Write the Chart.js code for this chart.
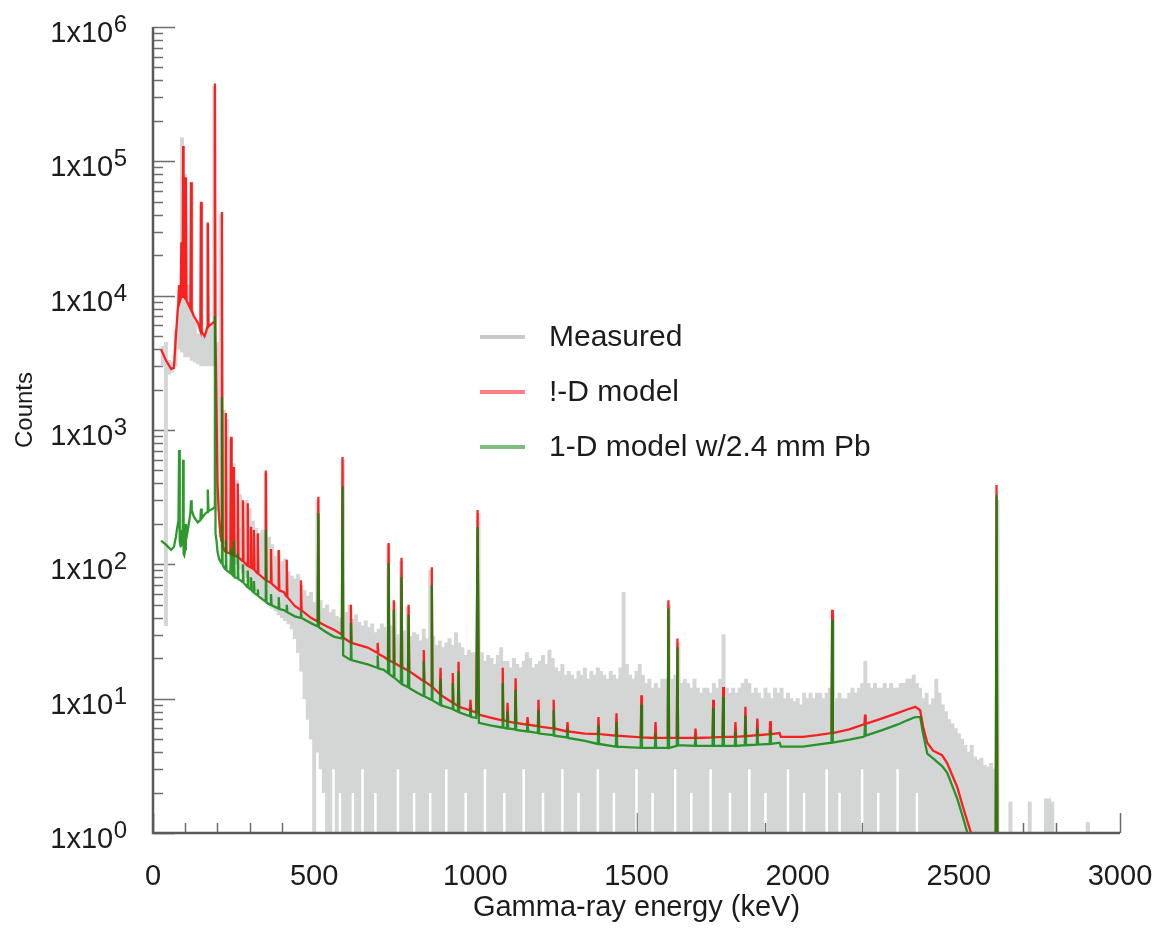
<!DOCTYPE html>
<html>
<head>
<meta charset="utf-8">
<script src="https://cdn.jsdelivr.net/npm/chart.js@4.4.0/dist/chart.umd.min.js"></script>
<style>
html,body{margin:0;padding:0;background:#ffffff;}
#wrap{width:1159px;height:931px;position:relative;}
</style>
</head>
<body>
<div id="wrap"><canvas id="c" width="1159" height="931"></canvas></div>
<script>
// ---------------- DATA ----------------
// Measured spectrum, 10 keV bins: bin centre (keV), highest and lowest count seen in the bin
const measuredEnergy = [
  30,40,50,60,70,80,90,100,110,120,
  130,140,150,160,170,180,190,200,210,220,
  230,240,250,260,270,280,290,300,310,320,
  330,340,350,360,370,380,390,400,410,420,
  430,440,450,460,470,480,490,500,510,520,
  530,540,550,560,570,580,590,600,610,620,
  630,640,650,660,670,680,690,700,710,720,
  730,740,750,760,770,780,790,800,810,820,
  830,840,850,860,870,880,890,900,910,920,
  930,940,950,960,970,980,990,1000,1010,1020,
  1030,1040,1050,1060,1070,1080,1090,1100,1110,1120,
  1130,1140,1150,1160,1170,1180,1190,1200,1210,1220,
  1230,1240,1250,1260,1270,1280,1290,1300,1310,1320,
  1330,1340,1350,1360,1370,1380,1390,1400,1410,1420,
  1430,1440,1450,1460,1470,1480,1490,1500,1510,1520,
  1530,1540,1550,1560,1570,1580,1590,1600,1610,1620,
  1630,1640,1650,1660,1670,1680,1690,1700,1710,1720,
  1730,1740,1750,1760,1770,1780,1790,1800,1810,1820,
  1830,1840,1850,1860,1870,1880,1890,1900,1910,1920,
  1930,1940,1950,1960,1970,1980,1990,2000,2010,2020,
  2030,2040,2050,2060,2070,2080,2090,2100,2110,2120,
  2130,2140,2150,2160,2170,2180,2190,2200,2210,2220,
  2230,2240,2250,2260,2270,2280,2290,2300,2310,2320,
  2330,2340,2350,2360,2370,2380,2390,2400,2410,2420,
  2430,2440,2450,2460,2470,2480,2490,2500,2510,2520,
  2530,2540,2550,2560,2570,2580,2590,2600,2610,2620,
  2630,2640,2650,2660,2670,2680,2690,2700,2710,2720,
  2730,2740,2750,2760,2770,2780,2790,2800,2810,2820,
  2830,2840,2850,2860,2870,2880,2890,2900
];
const measuredHigh = [
  4200,4500,3300,3200,5500,11000,150000,80000,12000,70000,
  6500,5200,48000,5000,34000,5800,360000,4500,40000,1400,
  1200,850,560,420,330,290,300,260,210,185,
  170,180,480,160,140,115,125,105,110,88,
  82,78,84,70,64,58,62,52,300,54,
  47,50,44,46,41,40,600,44,50,39,
  42,37,35,38,34,36,31,33,36,34,
  140,35,52,30,105,32,48,29,31,30,
  27,33,28,90,29,25,27,24,26,28,
  25,31,26,24,21,23,22,22,240,22,
  19,21,20,18,21,24,19,19,17,20,
  18,17,19,22,20,17,18,19,21,18,
  23,20,17,16,18,15,16,15,14,16,
  15,17,14,16,15,17,16,15,14,16,
  15,14,17,62,18,15,14,16,18,15,
  13,14,12,13,12,14,14,50,14,15,
  26,13,14,13,12,14,12,11,12,12,
  11,13,12,14,30,12,11,12,11,12,
  13,14,13,11,12,11,10,12,11,10,
  12,11,12,10,11,10,9.5,10,9,11,
  10,11,10,11,11,10,11,12,42,10,
  11,10,10,11,12,11,12,13,19,13,
  12,13,12,12,13,12,13,12,12,13,
  13,14,14,15,13,12,10,11,9,10,
  14,11,9,8,7,6.5,6,5.5,5,4.5,
  4,4.5,3.7,3.5,3.6,3.2,3.1,3.3,3,300,
  1,1,1,1.7,1,1,1,1,1,1.7,
  1,1,1,1,1.8,1.8,1.7,1,1,1,
  1,1,1,1,1,1,1,1.2
];
const measuredLow = [
  3000,35,2600,2700,3000,4000,3800,3500,3500,3300,
  3200,3100,3000,3000,3000,3000,3000,250,160,140,
  125,115,105,100,92,86,80,74,68,64,
  60,56,54,50,47,45,42,40,38,36,
  33,28,22,16,10,7,5,1,4,3,
  2,1,1,3,1,2,1,1,1,2,
  1,1,3,1,1,1,2,1,1,1,
  1,1,1,3,1,1,1,1,2,1,
  1,1,1,2,1,1,1,1,3,1,
  1,1,1,1,2,1,1,1,1,1,
  3,1,1,1,1,1,2,1,1,1,
  1,1,3,1,1,1,1,1,2,1,
  1,1,1,1,3,1,1,1,1,2,
  1,1,1,1,1,3,1,1,1,1,
  2,1,1,1,1,1,1,3,1,1,
  1,1,2,1,1,1,1,1,1,3,
  1,1,1,1,2,1,1,1,1,1,
  3,1,1,1,1,1,2,1,1,1,
  1,1,3,1,1,1,1,2,1,1,
  1,1,1,1,3,1,1,1,1,2,
  1,1,1,1,1,1,3,1,1,1,
  2,1,1,1,1,1,1,3,1,1,
  1,1,2,1,1,1,1,1,3,1,
  1,1,1,1,2,1,1,1,1,1,
  1,1,1,1,1,1,1,1,1,1,
  1,1,1,1,1,1,1,1,1,1,
  1,1,1,1,1,1,1,1,1,1,
  1,1,1,1,1,1,1,1,1,1,
  1,1,1,1,1,1,1,1
];

// Model spectra (energy in keV, counts)
const modelEnergy = [
  25,40,56,65,71,77,79,81,83,86,88,90,92,93.5,95,97,100,102,104,108,
  116,118,120,127,139,147,149,151,160,164,168,170,172,180,186,190,192,194,197,200,
  205,210,212,214,216,220,224,226,228,240,242,244,249,251,253,261,263,265,277,279,
  281,292,294,296,302,304,306,311,313,315,323,325,327,348,350,352,364,366,368,388,
  390,392,406,413,415,417,440,457,459,461,490,511,513,515,540,561,586,588,590,612,
  614,616,666,695,697,699,716,729,731,733,745,747,749,769,771,773,791,793,795,821,
  838,840,842,863,865,867,890,892,894,928,930,932,946,948,950,983,985,987,1003,1007,
  1011,1050,1083,1085,1087,1098,1100,1102,1123,1125,1127,1160,1162,1164,1194,1196,1198,1241,1243,1245,
  1284,1286,1288,1340,1380,1382,1384,1436,1438,1440,1513,1515,1517,1557,1559,1561,1597,1599,1601,1625,
  1627,1629,1681,1683,1685,1736,1738,1740,1767,1769,1771,1805,1807,1809,1836,1838,1840,1873,1875,1877,
  1913,1915,1917,1944,1948,2017,2060,2105,2107,2109,2160,2203,2207,2209,2211,2260,2309,2340,2365,2380,
  2389,2402,2420,2448,2464,2495,2513,2535,2560,2614,2617,2620,2650
];
const model1D = [
  4000,3300,2850,2900,5000,8000,8800,12000,9000,9500,25000,9800,10000,130000,10000,9800,9500,76000,9200,8800,
  8000,70000,7800,7000,6300,5500,50000,5400,5000,5300,5800,35000,5900,6100,6300,6300,380000,5000,1500,400,
  220,160,150,42000,140,128,125,1340,123,120,890,119,117,530,116,114,400,113,106,300,
  105,98,285,97,95,190,94,92,180,91,86,170,85,77,500,76,73,130,72,65,
  128,64,62,58,108,57,49,46,76,45.5,40,37.5,318,37,34.5,32.6,30,630,28.5,26.3,
  50,26,24,22,26,21.5,20.5,19.5,144,19.3,18.6,54,18.4,17.3,112,17.1,16.2,50,16,14.5,
  13.6,23,13.5,12.4,95,12.2,10.8,17,10.6,9.4,15.5,9.3,8.8,18.8,8.7,8.2,9.8,8.1,7.9,254,
  7.6,7.2,6.9,17,6.9,6.8,9.3,6.75,6.6,14.2,6.6,6.4,7.3,6.4,6.25,9.8,6.2,6,9.8,6,
  5.7,6.7,5.7,5.5,5.45,7.3,5.45,5.3,7.8,5.3,5.15,10.6,5.15,5.1,6.7,5.1,5.1,54,5.1,5.1,
  28,5.1,5.1,6,5.1,5.15,9.8,5.15,5.2,12.2,5.2,5.2,6.7,5.2,5.25,8.7,5.25,5.35,7.1,5.35,
  5.45,6.8,5.45,5.55,5.2,5.2,5.35,5.55,46,5.55,5.9,6.4,6.45,7.6,6.5,7.1,7.8,8.3,8.7,8.2,
  6.2,4.7,4.1,3.8,3.3,2.2,1.56,1.05,0.6,0.3,390,0.3,0.3
];
const modelPb = [
  150,140,128,135,160,200,210,710,150,134,180,140,150,600,120,117,130,200,160,180,
  240,300,255,225,205,215,260,220,235,240,245,360,250,255,260,265,7000,170,150,125,
  110,104,102,1760,100,95,92,150,90,86,130,85,82,150,80,79,120,78,74,100,
  73,68,90,67,65,80,64,62,75,61,59,65,58,53,180,52,50,60,49.5,47,
  57,46.5,45.6,44.5,50,44,41,40,45,39.8,36.5,34.5,240,34,31,29,28,380,21,19.5,
  36.6,19.4,18,17,21,16.8,16.4,15.5,102,15.3,14.5,45.6,14.3,13,80,12.8,12.2,42,12,11,
  10.5,19,10.4,9.8,70,9.7,9,14,8.9,8.4,13,8.3,8,16,7.9,7.4,8.5,7.3,7.2,190,
  6.6,6.3,6.1,13,6.1,6,8,6,5.9,11.6,5.85,5.7,6.5,5.7,5.55,8.2,5.5,5.35,8.2,5.3,
  5.15,6,5.1,4.85,4.6,6.3,4.6,4.4,6.7,4.4,4.3,9,4.3,4.3,5.5,4.3,4.3,47,4.3,4.45,
  24,4.5,4.45,5.2,4.45,4.45,8.5,4.45,4.45,10.3,4.45,4.45,5.7,4.45,4.5,7.5,4.5,4.55,6,4.55,
  4.6,5.8,4.6,4.7,4.4,4.4,4.55,4.7,38.5,4.7,4.95,5.2,5.25,6.4,5.3,5.8,6.4,6.9,7.3,7.3,
  5.5,3.9,3.6,3.15,2.8,1.8,1.3,0.85,0.5,0.3,330,0.3,0.3
];

const seriesLabels = ['Measured', '!-D model', '1-D model w/2.4 mm Pb'];
const xTickValues = [0, 500, 1000, 1500, 2000, 2500, 3000];
const yDecades = [1, 10, 100, 1000, 10000, 100000, 1000000];
const yExponents = ['0', '1', '2', '3', '4', '5', '6'];

// ---------------- STYLE ----------------
const FONT = "'Liberation Sans', Arial, Helvetica, sans-serif";
const TEXT = '#1c1c1c';
const AXIS = '#5a5a5a';
const cGray = 'rgb(212,214,214)';
const cRed = 'rgba(255,0,0,0.85)';
const cGreen = 'rgba(10,135,10,0.85)';
const legendColors = ['rgb(200,200,198)', 'rgb(255,125,135)', 'rgb(125,190,125)'];

const frame = {
  id: 'frame',
  beforeDatasetsDraw(chart) {
    const {ctx, chartArea: a, scales: {x, y}} = chart;
    ctx.save();
    ctx.strokeStyle = '#6e6e6e';
    ctx.lineWidth = 1.5;
    ctx.beginPath();
    for (let k = 0; k < 6; k++) {
      for (let m = 1; m <= 9; m++) {
        const v = m * Math.pow(10, k);
        const py = Math.round(y.getPixelForValue(v)) + 0.5;
        ctx.moveTo(a.left, py);
        ctx.lineTo(a.left + (m === 1 ? 22 : 10), py);
      }
    }
    const pt = Math.round(y.getPixelForValue(1e6)) + 0.5;
    ctx.moveTo(a.left, pt); ctx.lineTo(a.left + 22, pt);
    for (let e = 0; e <= 3000; e += 100) {
      const px = Math.round(x.getPixelForValue(e)) + 0.5;
      ctx.moveTo(px, a.bottom);
      ctx.lineTo(px, a.bottom - (e % 500 === 0 ? 20 : 10));
    }
    ctx.stroke();
    ctx.restore();
  },
  afterDatasetsDraw(chart) {
    const {ctx, chartArea: a, scales: {y}} = chart;
    ctx.save();
    ctx.strokeStyle = AXIS;
    ctx.lineWidth = 2.5;
    ctx.beginPath();
    ctx.moveTo(a.left, a.top);
    ctx.lineTo(a.left, a.bottom);
    ctx.lineTo(a.right, a.bottom);
    ctx.stroke();
    // y tick labels 1x10^k with a raised exponent
    ctx.fillStyle = TEXT;
    ctx.textAlign = 'right';
    ctx.textBaseline = 'alphabetic';
    const rightEdge = a.left - 26;
    yDecades.forEach((v, i) => {
      const py = y.getPixelForValue(v);
      ctx.font = '24px ' + FONT;
      const ew = ctx.measureText(yExponents[i]).width;
      ctx.fillText(yExponents[i], rightEdge, py + 5);
      ctx.font = '29px ' + FONT;
      ctx.fillText('1x10', rightEdge - ew - 0.5, py + 15);
    });
    ctx.restore();
  }
};

const legendPlugin = {
  id: 'customLegend',
  afterDraw(chart) {
    const ctx = chart.ctx;
    ctx.save();
    ctx.font = '30px ' + FONT;
    ctx.textBaseline = 'middle';
    ctx.fillStyle = TEXT;
    const rows = [337, 392, 447];
    seriesLabels.forEach((lab, i) => {
      ctx.strokeStyle = legendColors[i];
      ctx.lineWidth = 4;
      ctx.beginPath();
      ctx.moveTo(480, rows[i]);
      ctx.lineTo(525, rows[i]);
      ctx.stroke();
      ctx.fillText(lab, 549, rows[i] + 1);
    });
    ctx.restore();
  }
};

const toXY = (ys) => modelEnergy.map((e, i) => ({x: e, y: ys[i]}));

new Chart(document.getElementById('c'), {
  type: 'bar',
  data: {
    datasets: [
      {
        type: 'bar', label: seriesLabels[0], order: 3,
        data: measuredEnergy.map((e, i) => ({x: e, y: [measuredLow[i], measuredHigh[i]]})),
        backgroundColor: cGray, borderWidth: 0, barThickness: 3.3, grouped: false
      },
      {
        type: 'line', label: seriesLabels[1], order: 2,
        data: toXY(model1D),
        borderColor: cRed, borderWidth: 2.3, pointRadius: 0, tension: 0, fill: false
      },
      {
        type: 'line', label: seriesLabels[2], order: 1,
        data: toXY(modelPb),
        borderColor: cGreen, borderWidth: 2.3, pointRadius: 0, tension: 0, fill: false
      }
    ]
  },
  options: {
    responsive: false,
    animation: false,
    devicePixelRatio: 1,
    layout: {padding: {left: 0, right: 39, top: 27, bottom: 0}},
    plugins: {legend: {display: false}, tooltip: {enabled: false}},
    scales: {
      x: {
        type: 'linear', min: 0, max: 3000, offset: false,
        grid: {display: false, offset: false, drawTicks: false},
        border: {display: false},
        afterBuildTicks(s) { s.ticks = xTickValues.map(v => ({value: v})); },
        ticks: {
          autoSkip: false, maxRotation: 0, padding: 27, color: TEXT, font: {family: FONT, size: 29},
          callback(v) { return String(v); }
        },
        title: {display: true, text: 'Gamma-ray energy (keV)', color: TEXT, font: {family: FONT, size: 29}, padding: {top: 0, bottom: 6}},
        afterFit(s) { s.height = 98; s.paddingLeft = 0; s.paddingRight = 0; }
      },
      y: {
        type: 'logarithmic', min: 1, max: 1000000,
        grid: {display: false, drawTicks: false},
        border: {display: false},
        afterBuildTicks(s) { s.ticks = yDecades.map(v => ({value: v})); },
        ticks: {display: false},
        title: {display: true, text: '\u00a0\u00a0\u00a0\u00a0\u00a0\u00a0Counts', color: TEXT, font: {family: FONT, size: 24}, padding: {top: 11, bottom: 0}},
        afterFit(s) { s.width = 153; s.paddingTop = 0; s.paddingBottom = 0; }
      }
    }
  },
  plugins: [frame, legendPlugin]
});
</script>
</body>
</html>
